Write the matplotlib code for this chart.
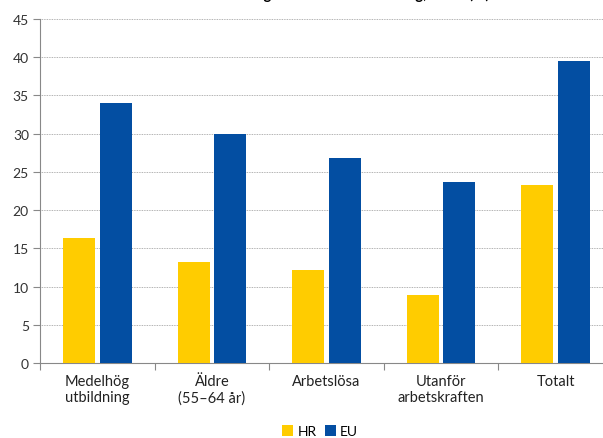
import matplotlib
matplotlib.use("Agg")
import matplotlib.pyplot as plt
import numpy as np

categories = ["Medelhög\nutbildning", "Äldre\n(55–64 år)", "Arbetslösa", "Utanför\narbetskraften", "Totalt"]
hr_values = [16.3, 13.2, 12.2, 8.9, 23.3]
eu_values = [34.0, 29.9, 26.8, 23.7, 39.5]
series_names = ["HR", "EU"]
yticks = [0, 5, 10, 15, 20, 25, 30, 35, 40, 45]
title = "Vuxnas deltagande i vuxenutbildning, 2016 (%)"

plt.rcParams['font.family'] = ['Lato', 'DejaVu Sans']

W, H = 603, 439
fig = plt.figure(figsize=(W / 100, H / 100), dpi=100)
left, right, top, bottom = 40, 613, 20, 364
ax = fig.add_axes([left / W, 1 - bottom / H, (right - left) / W, (bottom - top) / H])

x = np.arange(len(categories))
bw = 0.28
off = 0.16
ax.bar(x - off, hr_values, bw, color="#FFCC00", label=series_names[0], zorder=3)
ax.bar(x + off, eu_values, bw, color="#034EA2", label=series_names[1], zorder=3)

ax.set_xlim(-0.5, len(categories) - 0.5)
ax.set_ylim(0, 45)
ax.set_yticks(yticks)
ax.set_yticklabels([str(v) for v in yticks], fontsize=10, color="#333333")
ax.set_xticks(np.arange(len(categories) + 1) - 0.5, minor=False)
ax.set_xticklabels([])
ax.set_xticks(x, minor=True)
ax.set_xticklabels(categories, minor=True, fontsize=10.5, color="#222222")
ax.tick_params(axis='x', which='minor', length=0, pad=8)
ax.tick_params(axis='x', which='major', length=5, color="#888888", direction='out')
ax.tick_params(axis='y', length=5, color="#888888", direction='out', pad=3)

ax.grid(axis='y', linestyle=(0, (1, 1)), color="#999999", linewidth=0.6, zorder=0)
for s in ["top", "right"]:
    ax.spines[s].set_visible(False)
ax.spines["left"].set_color("#888888")
ax.spines["bottom"].set_color("#888888")

# title: only its descenders show at the top edge, as in the reference
t = fig.text(177 / W, 1 + 0.5 / H, title, ha='left', va='baseline', fontsize=12,
             fontweight='bold', color="#000000")
renderer = fig.canvas.get_renderer()
w = t.get_window_extent(renderer).width
t.set_fontsize(12 * 311 / w)

leg = fig.legend(loc='center', bbox_to_anchor=(320 / W, 1 - 432 / H), ncol=2, frameon=False,
                 fontsize=10, handlelength=0.8, handleheight=0.8, handletextpad=0.3,
                 columnspacing=0.6)

fig.savefig("out.png", dpi=100)
